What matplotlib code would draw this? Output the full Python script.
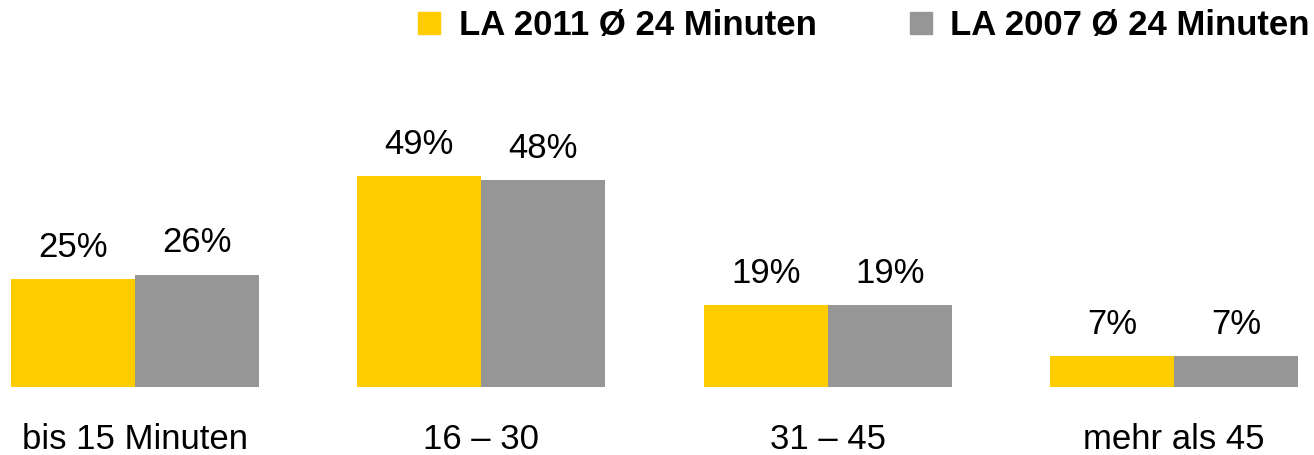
import numpy as np
import matplotlib
matplotlib.use('Agg')
import matplotlib.pyplot as plt
from matplotlib.lines import Line2D

plt.rcParams['font.family'] = ['Liberation Sans', 'DejaVu Sans']

################### data ###################################################

cats = ['bis 15 Minuten', '16 \u2013 30', '31 \u2013 45', 'mehr als 45']
la2011 = [25, 49, 19, 7]
la2007 = [26, 48, 19, 7]
names = ['LA 2011 \u00d8 24 Minuten', 'LA 2007 \u00d8 24 Minuten']

yellow = '#FFCC00'
grey = '#969696'

################### plot ###################################################

fig = plt.figure(figsize=(13.14, 4.55), dpi=100)
ax = fig.add_axes([11/1314, (455-386.5)/455, (1298-11)/1314, 258/455])

x = np.arange(len(cats))
w = 0.358

b1 = ax.bar(x - w/2, la2011, w, color=yellow)
b2 = ax.bar(x + w/2, la2007, w, color=grey)

for bars, vals in [(b1, la2011), (b2, la2007)]:
    for b, v in zip(bars, vals):
        ax.annotate(str(v) + '%', (b.get_x() + b.get_width()/2, v),
                    xytext=(0, 11), textcoords='offset points',
                    ha='center', va='bottom', fontsize=25)

ax.set_xlim(-w, len(cats) - 1 + w)
ax.set_ylim(0, 60)
ax.set_xticks(x)
ax.set_xticklabels(cats, fontsize=25)
ax.tick_params(axis='x', length=0, pad=26)
ax.set_yticks([])
for s in ax.spines.values():
    s.set_visible(False)

handles = [Line2D([], [], marker='s', ls='none', color=c, markersize=15.5)
           for c in (yellow, grey)]
fig.legend(handles, names, loc='upper right',
           bbox_to_anchor=(1310/1314, 1 - 9/455),
           ncol=2, frameon=False, prop={'size': 25, 'weight': 'bold'},
           handletextpad=0.35, columnspacing=2.5, borderaxespad=0.0,
           borderpad=0.0, handlelength=1.0)

fig.savefig('out.png', dpi=100)
